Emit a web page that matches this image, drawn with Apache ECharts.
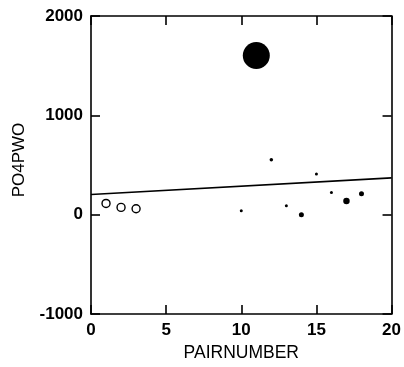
<!DOCTYPE html>
<html>
<head>
<meta charset="utf-8">
<script src="https://cdn.jsdelivr.net/npm/echarts@6/dist/echarts.min.js"></script>
<style>html,body{margin:0;padding:0;background:#fff}#c{width:404px;height:367px}</style>
</head>
<body>
<div id="c"></div>
<script>
// Open-circle observations
const openX = [1, 2, 3];
const openY = [113, 73, 60];
const openSize = [8, 8, 8];
const filledX = [10, 11, 12, 13, 14, 15, 16, 17, 18];
const filledY = [40, 1603, 553, 90, 0, 410, 223, 137, 210];
const filledSize = [3, 27, 3.5, 3, 5, 3, 3, 6.5, 5];
// Fitted line endpoints
const fitX = [0, 20];
const fitY = [203, 370];
// Axis ticks
const xTicks = [0, 5, 10, 15, 20];
const yTicks = [-1000, 0, 1000, 2000];

const font = 'Liberation Sans, Arial, sans-serif';
const axisLine = { show: true, onZero: false, lineStyle: { color: '#000', width: 1.6 } };
const axisTick = { show: true, inside: true, length: 9, lineStyle: { color: '#000', width: 1.6 } };

const chart = echarts.init(document.getElementById('c'), null, { renderer: 'canvas' });
chart.setOption({
  animation: false,
  backgroundColor: '#fff',
  grid: { left: 91, right: 11, top: 16, bottom: 51 },
  xAxis: [
    { type: 'value', min: xTicks[0], max: xTicks[xTicks.length - 1], interval: 5,
      name: 'PAIRNUMBER', nameLocation: 'middle', nameGap: 30,
      nameTextStyle: { fontFamily: font, fontSize: 17.5, color: '#000' },
      axisLine, axisTick, splitLine: { show: false },
      axisLabel: { fontFamily: font, fontSize: 17, color: '#000', margin: 8, fontWeight: 'bold',
        formatter: v => String(v) } },
    { type: 'value', position: 'top', min: 0, max: 20, interval: 5,
      axisLine, axisTick, splitLine: { show: false }, axisLabel: { show: false } }
  ],
  yAxis: [
    { type: 'value', min: yTicks[0], max: yTicks[yTicks.length - 1], interval: 1000,
      name: 'PO4PWO', nameLocation: 'middle', nameGap: 63, nameRotate: 90,
      nameTextStyle: { fontFamily: font, fontSize: 17, color: '#000', padding: [0, 0, 0, 10] },
      axisLine, axisTick, splitLine: { show: false },
      axisLabel: { fontFamily: font, fontSize: 17, color: '#000', margin: 8, fontWeight: 'bold',
        formatter: v => String(v) } },
    { type: 'value', position: 'right', min: -1000, max: 2000, interval: 1000,
      axisLine, axisTick, splitLine: { show: false }, axisLabel: { show: false } }
  ],
  series: [
    { type: 'line', data: fitX.map((x, i) => [x, fitY[i]]), symbol: 'none',
      lineStyle: { color: '#000', width: 1.6 }, z: 2 },
    { type: 'scatter', data: openX.map((x, i) => [x, openY[i]]),
      symbol: 'circle', symbolSize: (v, p) => openSize[p.dataIndex],
      itemStyle: { color: '#fff', borderColor: '#000', borderWidth: 1.4, opacity: 1 }, z: 3 },
    { type: 'scatter', data: filledX.map((x, i) => [x, filledY[i]]),
      symbol: 'circle', symbolSize: (v, p) => filledSize[p.dataIndex],
      itemStyle: { color: '#000', opacity: 1 }, z: 3 }
  ]
});
</script>
</body>
</html>
